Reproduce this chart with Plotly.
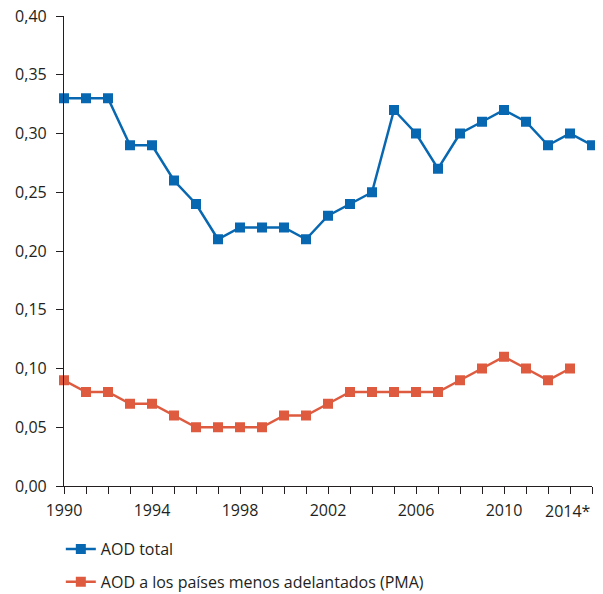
import plotly.graph_objects as go

BLUE = "#0767B1"
RED = "#DE5B40"
AXIS = "#231F20"
FONT = "Open Sans, sans-serif"

years_total = list(range(1990, 2015))
aod_total = [0.33, 0.33, 0.33, 0.29, 0.29, 0.26, 0.24, 0.21, 0.22, 0.22,
             0.22, 0.21, 0.23, 0.24, 0.25, 0.32, 0.30, 0.27, 0.30, 0.31,
             0.32, 0.31, 0.29, 0.30, 0.29]

years_pma = list(range(1990, 2014))
aod_pma = [0.09, 0.08, 0.08, 0.07, 0.07, 0.06, 0.05, 0.05, 0.05, 0.05,
           0.06, 0.06, 0.07, 0.08, 0.08, 0.08, 0.08, 0.08, 0.09, 0.10,
           0.11, 0.10, 0.09, 0.10]

tick_years = list(range(1990, 2015))
tick_labels = [str(y) if (y - 1990) % 4 == 0 and y < 2014 else "" for y in tick_years]
last_label = "2014*"
y_ticks = [0, 0.05, 0.10, 0.15, 0.20, 0.25, 0.30, 0.35, 0.40]

fig = go.Figure()
fig.add_trace(go.Scatter(
    x=years_total, y=aod_total, name="AOD total", legendgroup="a",
    mode="lines+markers", cliponaxis=False,
    line=dict(color=BLUE, width=2.5),
    marker=dict(symbol="square", size=10, color=BLUE),
))
fig.add_trace(go.Scatter(
    x=years_pma, y=aod_pma, name="AOD a los países menos adelantados (PMA)", legendgroup="b",
    mode="lines+markers", cliponaxis=False,
    line=dict(color=RED, width=2.5),
    marker=dict(symbol="square", size=10, color=RED),
))

fig.add_annotation(
    x=2014, y=0, xref="x", yref="y", text=last_label, showarrow=False,
    xanchor="right", yanchor="top", yshift=-12, xshift=1,
    font=dict(size=16, color=AXIS, family=FONT),
)

# the page body has an 8px margin, so everything is laid out 8px up/left
fig.update_layout(
    width=595, height=586,
    margin=dict(l=56, r=11, t=8, b=108),
    plot_bgcolor="white", paper_bgcolor="white",
    separators=",.",
    font=dict(family=FONT, size=16, color=AXIS),
    showlegend=True,
    legend=dict(
        orientation="v", x=-0.006, xanchor="left",
        y=0.1058, yref="container", yanchor="top",
        tracegroupgap=9, font=dict(size=16, color=AXIS), bgcolor="rgba(0,0,0,0)",
    ),
    xaxis=dict(
        range=[1990, 2014], tickvals=tick_years, ticktext=tick_labels,
        showgrid=False, zeroline=False, showline=True, linecolor=AXIS, linewidth=1.2,
        ticks="outside", ticklen=7, tickcolor=AXIS, tickwidth=1,
        tickfont=dict(size=16, color=AXIS), ticklabelstandoff=3,
    ),
    yaxis=dict(
        range=[0, 0.4], tickvals=y_ticks, tickformat=".2f",
        showgrid=False, zeroline=False, showline=True, linecolor=AXIS, linewidth=1.2,
        ticks="outside", ticklen=7, tickcolor=AXIS, tickwidth=1,
        tickfont=dict(size=16, color=AXIS), ticklabelstandoff=6,
        ticklabeloverflow="allow", automargin=False,
    ),
)

fig.write_html("out.html")
